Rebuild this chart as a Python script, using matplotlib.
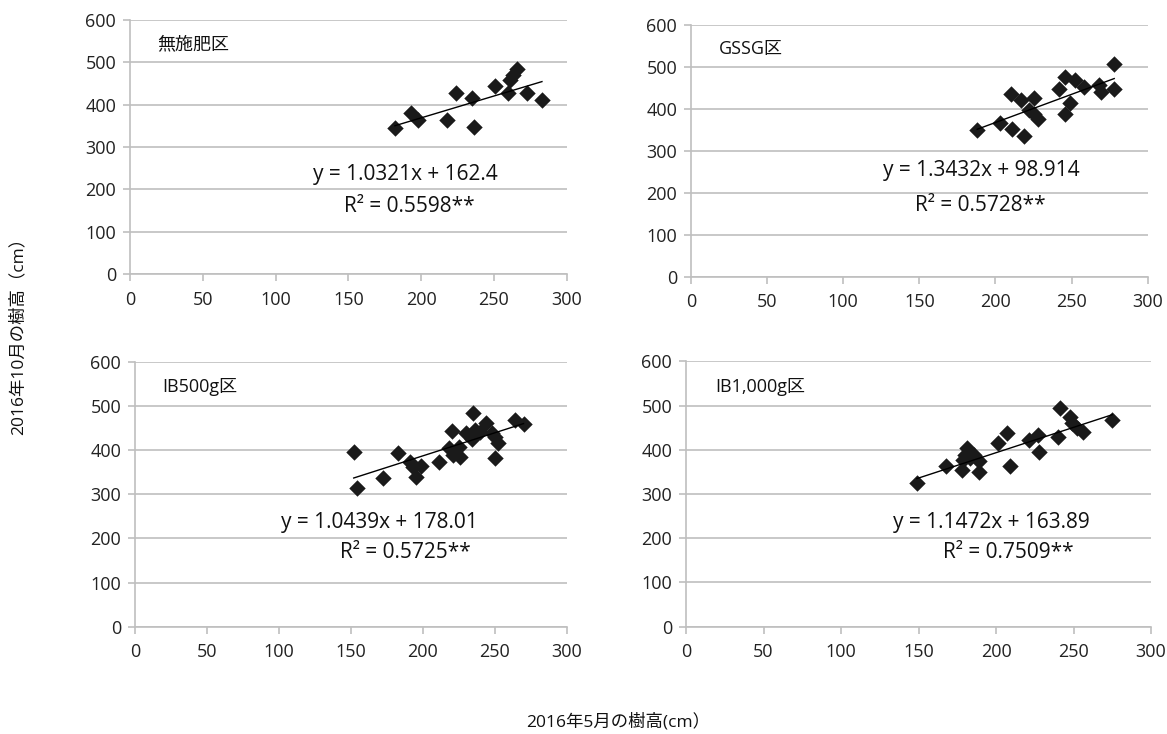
import matplotlib
matplotlib.use("Agg")
import matplotlib.pyplot as plt
import numpy as np

plt.rcParams['font.family'] = ['Open Sans', 'Noto Sans CJK JP', 'DejaVu Sans']

# panel names
titles = ["無施肥区", "GSSG区", "IB500g区", "IB1,000g区"]

# May height (x) / October height (y)
may_1 = [182, 193, 198, 218, 224, 235, 236, 251, 260, 261, 263, 266, 273, 283]
oct_1 = [344, 380, 364, 364, 427, 415, 348, 444, 427, 458, 470, 484, 428, 411]

may_2 = [188, 203, 211, 210, 219, 217, 225, 222, 225, 228, 242, 246, 249, 246,
         252, 258, 268, 269, 278, 278]
oct_2 = [350, 367, 352, 435, 335, 421, 425, 397, 389, 377, 447, 389, 413, 475,
         469, 453, 457, 441, 508, 447]

may_3 = [152, 154, 172, 183, 191, 193, 195, 199, 211, 218, 220, 221, 225, 226,
         230, 234, 235, 236, 240, 244, 248, 250, 252, 250, 264, 270]
oct_3 = [395, 313, 337, 394, 374, 362, 338, 364, 374, 404, 444, 389, 408, 385,
         438, 426, 483, 445, 441, 462, 438, 429, 417, 381, 468, 460]

may_4 = [149, 168, 178, 179, 181, 180, 183, 186, 189, 189, 201, 207, 209, 221,
         227, 228, 240, 241, 248, 249, 252, 256, 275]
oct_4 = [325, 364, 355, 377, 404, 389, 381, 389, 374, 349, 416, 438, 364, 421,
         434, 396, 430, 494, 475, 460, 449, 441, 468]

# trendline slopes / intercepts and R² as printed
slopes = [1.0321, 1.3432, 1.0439, 1.1472]
intercepts = [162.4, 98.914, 178.01, 163.89]
eq_texts = ["y = 1.0321x + 162.4", "y = 1.3432x + 98.914",
            "y = 1.0439x + 178.01", "y = 1.1472x + 163.89"]
r2_texts = ["R² = 0.5598**", "R² = 0.5728**", "R² = 0.5725**", "R² = 0.7509**"]

xs = [may_1, may_2, may_3, may_4]
ys = [oct_1, oct_2, oct_3, oct_4]

# axes rectangles in pixels (left, top, right, bottom)
W, H = 1167, 734
rects_px = [(130, 20, 566.7, 274), (691, 25, 1147.7, 276.7),
            (135, 361.7, 566.7, 626.7), (686, 361.4, 1151, 626.5)]
eq_pos = [(189, 234), (190.5, 254), (170, 237), (197, 236)]
r2_pos = [(192, 160), (190, 169), (188, 169), (208, 168)]

grid_col = "#BFBFBF"
fig = plt.figure(figsize=(W / 100, H / 100), dpi=100)

for i in range(4):
    x0, y0, x1, y1 = rects_px[i]
    ax = fig.add_axes([x0 / W, 1 - y1 / H, (x1 - x0) / W, (y1 - y0) / H])
    ax.scatter(xs[i], ys[i], marker="D", s=70, color="#1a1a1a", zorder=3,
               linewidths=0)
    xl = np.array([min(xs[i]), max(xs[i])])
    ax.plot(xl, slopes[i] * xl + intercepts[i], color="black", lw=1.0, zorder=4)

    ax.set_xlim(0, 300)
    ax.set_ylim(0, 600)
    ax.set_xticks(range(0, 301, 50))
    ax.set_yticks(range(0, 601, 100))
    ax.yaxis.grid(True, color=grid_col, lw=1.2)
    ax.set_axisbelow(True)
    for s in ["top", "right"]:
        ax.spines[s].set_visible(False)
    for s in ["left", "bottom"]:
        ax.spines[s].set_color(grid_col)
        ax.spines[s].set_linewidth(1.2)
    ax.tick_params(colors=grid_col, labelcolor="#222222", labelsize=13,
                   length=5, width=1.2)
    ax.tick_params(axis="x", pad=7)
    ax.tick_params(axis="y", pad=5)

    ax.text(0.062, 0.905, titles[i], transform=ax.transAxes, fontsize=13,
            ha="left", va="center", color="#111111")
    ax.text(eq_pos[i][0], eq_pos[i][1], eq_texts[i], fontsize=15,
            ha="center", va="center", color="#111111")
    ax.text(r2_pos[i][0], r2_pos[i][1], r2_texts[i], fontsize=15,
            ha="center", va="center", color="#111111")

fig.text(18 / W, 1 - 332 / H, "2016年10月の樹高（cm）", rotation=90,
         ha="center", va="center", fontsize=12.5, color="#111111")
fig.text(618 / W, 1 - 722 / H, "2016年5月の樹高(cm）",
         ha="center", va="center", fontsize=12.5, color="#111111")

fig.savefig("out.png", dpi=100, facecolor="white")
